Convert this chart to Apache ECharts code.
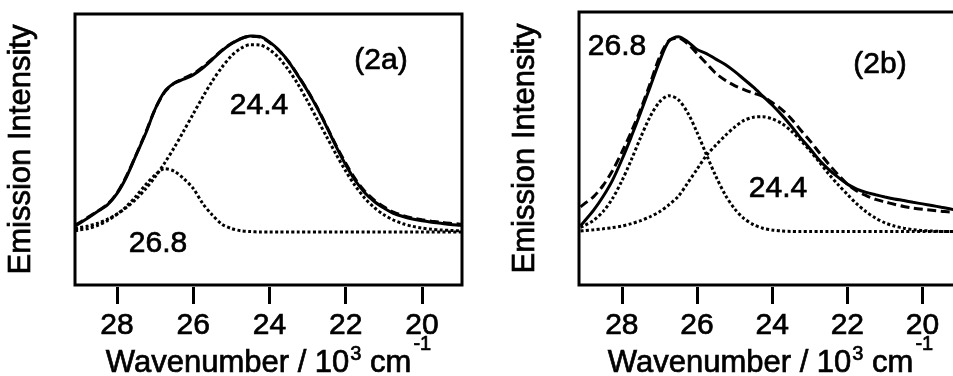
<!DOCTYPE html>
<html><head><meta charset="utf-8">
<script src="https://cdn.jsdelivr.net/npm/echarts@6/dist/echarts.min.js"></script>
<style>html,body{margin:0;padding:0;background:#fff}#c{width:953px;height:376px}</style>
</head><body><div id="c"></div>
<script>
// Wavenumber grid (10^3 cm^-1)
const xs = [29.1, 29.0, 28.75, 28.5, 28.25, 28.0, 27.75, 27.5, 27.25, 27.0, 26.75, 26.5, 26.25, 26.0, 25.75, 25.5, 25.25, 25.0, 24.75, 24.5, 24.25, 24.0, 23.75, 23.5, 23.25, 23.0, 22.75, 22.5, 22.25, 22.0, 21.75, 21.5, 21.25, 21.0, 20.75, 20.5, 20.25, 20.0, 19.75, 19.5, 19.25, 19.0, 18.95];
const tickValues = [28, 26, 24, 22, 20];

// Panel (2a)
const a_measured = [0.03, 0.042, 0.073, 0.105, 0.138, 0.195, 0.28, 0.39, 0.50, 0.625, 0.715, 0.757, 0.778, 0.80, 0.835, 0.878, 0.922, 0.958, 0.984, 0.998, 0.995, 0.968, 0.925, 0.868, 0.795, 0.718, 0.632, 0.535, 0.435, 0.342, 0.262, 0.200, 0.155, 0.122, 0.095, 0.079, 0.066, 0.057, 0.050, 0.044, 0.038, 0.034, 0.033];
const a_fit = [0.038, 0.046, 0.076, 0.107, 0.141, 0.198, 0.285, 0.392, 0.505, 0.625, 0.712, 0.758, 0.782, 0.805, 0.84, 0.882, 0.925, 0.96, 0.985, 0.997, 0.992, 0.965, 0.924, 0.868, 0.797, 0.72, 0.635, 0.538, 0.44, 0.35, 0.27, 0.208, 0.162, 0.128, 0.101, 0.084, 0.071, 0.062, 0.055, 0.049, 0.044, 0.040, 0.039];
const a_band244 = [0.017, 0.021, 0.031, 0.045, 0.065, 0.091, 0.125, 0.167, 0.219, 0.280, 0.351, 0.429, 0.514, 0.601, 0.687, 0.768, 0.838, 0.896, 0.935, 0.954, 0.952, 0.929, 0.886, 0.825, 0.752, 0.665, 0.575, 0.485, 0.395, 0.31, 0.235, 0.172, 0.124, 0.088, 0.061, 0.042, 0.029, 0.020, 0.014, 0.010, 0.008, 0.006, 0.006];
const a_band268 = [0.006, 0.010, 0.018, 0.034, 0.058, 0.09, 0.13, 0.182, 0.24, 0.29, 0.322, 0.31, 0.272, 0.222, 0.145, 0.087, 0.04, 0.018, 0.006, 0.002, 0, 0, 0, 0, 0, 0, 0, 0, 0, 0, 0, 0, 0, 0, 0, 0, 0, 0, 0, 0, 0, 0, 0];

// Panel (2b)
const b_measured = [0.03, 0.051, 0.108, 0.177, 0.259, 0.363, 0.479, 0.602, 0.73, 0.859, 0.963, 0.985, 0.96, 0.92, 0.90, 0.872, 0.845, 0.81, 0.77, 0.73, 0.685, 0.64, 0.59, 0.535, 0.475, 0.42, 0.362, 0.315, 0.275, 0.24, 0.215, 0.198, 0.186, 0.175, 0.165, 0.157, 0.148, 0.14, 0.132, 0.123, 0.114, 0.107, 0.106];
const b_fit = [0.125, 0.14, 0.177, 0.233, 0.307, 0.401, 0.504, 0.618, 0.747, 0.88, 0.965, 0.978, 0.95, 0.90, 0.85, 0.80, 0.765, 0.738, 0.718, 0.70, 0.683, 0.652, 0.618, 0.572, 0.515, 0.46, 0.40, 0.342, 0.288, 0.24, 0.205, 0.182, 0.163, 0.15, 0.138, 0.127, 0.119, 0.113, 0.108, 0.103, 0.098, 0.095, 0.094];
const b_band244 = [0.003, 0.005, 0.009, 0.014, 0.02, 0.028, 0.04, 0.055, 0.075, 0.10, 0.135, 0.178, 0.245, 0.315, 0.385, 0.437, 0.485, 0.528, 0.562, 0.578, 0.581, 0.57, 0.547, 0.51, 0.463, 0.41, 0.352, 0.292, 0.238, 0.188, 0.14, 0.10, 0.068, 0.044, 0.028, 0.017, 0.01, 0.005, 0.003, 0.001, 0, 0, 0];
const b_band268 = [0.022, 0.030, 0.057, 0.101, 0.167, 0.256, 0.362, 0.476, 0.58, 0.655, 0.687, 0.667, 0.601, 0.502, 0.389, 0.28, 0.186, 0.115, 0.066, 0.035, 0.017, 0.008, 0.003, 0.001, 0, 0, 0, 0, 0, 0, 0, 0, 0, 0, 0, 0, 0, 0, 0, 0, 0, 0, 0];

const panelLabels = ['(2a)', '(2b)'];
const bandLabels = ['24.4', '26.8'];
const yTitle = 'Emission Intensity';

const FONT = '"Liberation Sans", Arial, Helvetica, sans-serif';
const HEAVY = { textBorderColor: '#000', textBorderWidth: 0.7 };
function pairs(arr) { return xs.map((x, i) => [x, arr[i]]); }

const nameRich = {
  m: Object.assign({ fontSize: 31, lineHeight: 30, verticalAlign: 'bottom', color: '#000', fontFamily: FONT }, HEAVY),
  s: Object.assign({ fontSize: 20, lineHeight: 20, verticalAlign: 'bottom', color: '#000', fontFamily: FONT, padding: [0, 0, 15, 1] }, HEAVY),
  t: Object.assign({ fontSize: 20, lineHeight: 20, verticalAlign: 'bottom', color: '#000', fontFamily: FONT, padding: [0, 0, 25, 2] }, HEAVY)
};

function xAxisFor(gi, maxV) {
  return {
    gridIndex: gi, type: 'value', inverse: true, min: 18.95, max: maxV, offset: 2,
    axisLine: { show: false, onZero: false }, splitLine: { show: false },
    axisTick: { show: true, inside: false, length: 17, customValues: tickValues, lineStyle: { color: '#000', width: 3 } },
    axisLabel: Object.assign({ customValues: tickValues, fontSize: 30, color: '#000', fontFamily: FONT, margin: 24 }, HEAVY),
    name: '{m|Wavenumber / 10}{s|3}{m| cm}{t|-1}', nameLocation: 'middle', nameGap: 62, nameMoveOverlap: false,
    nameTextStyle: { rich: nameRich }
  };
}
function yAxisFor(gi) {
  return {
    gridIndex: gi, type: 'value', min: -0.27, max: 1.11,
    axisLine: { show: false }, axisTick: { show: false }, axisLabel: { show: false }, splitLine: { show: false },
    name: yTitle, nameLocation: 'middle', nameRotate: 90, nameGap: 38, nameMoveOverlap: false,
    nameTextStyle: Object.assign({ fontSize: 31, color: '#000', fontFamily: FONT }, HEAVY)
  };
}
const LW = 3;
function line(gi, arr, kind) {
  const type = kind === 'solid' ? 'solid' : (kind === 'dashed' ? [9, 4.5] : [3, 2.4]);
  return {
    type: 'line', xAxisIndex: gi, yAxisIndex: gi, data: pairs(arr), showSymbol: false, symbol: 'none',
    smooth: 0.3, silent: true, z: kind === 'solid' ? 4 : (kind === 'dashed' ? 3 : 2),
    lineStyle: { color: '#000', width: LW, type: type }
  };
}
function txt(text, x, y, size) {
  return { type: 'text', x: x, y: y, silent: true, z: 10,
    style: { text: text, fill: '#000', stroke: '#000', lineWidth: 0.7, fontSize: size, fontFamily: FONT, align: 'center', verticalAlign: 'middle' } };
}

const chart = echarts.init(document.getElementById('c'));
chart.setOption({
  animation: false,
  backgroundColor: '#fff',
  grid: [
    { left: 75, top: 14, width: 387, height: 271, outerBoundsMode: 'none', containLabel: false, show: true, borderColor: '#000', borderWidth: 3, backgroundColor: 'transparent' },
    { left: 579, top: 12, width: 383, height: 273, outerBoundsMode: 'none', containLabel: false, show: true, borderColor: '#000', borderWidth: 3, backgroundColor: 'transparent' }
  ],
  xAxis: [xAxisFor(0, 29.1), xAxisFor(1, 29.14)],
  yAxis: [yAxisFor(0), yAxisFor(1)],
  series: [
    line(0, a_band268, 'dotted'), line(0, a_band244, 'dotted'), line(0, a_fit, 'dashed'), line(0, a_measured, 'solid'),
    line(1, b_band268, 'dotted'), line(1, b_band244, 'dotted'), line(1, b_fit, 'dashed'), line(1, b_measured, 'solid')
  ],
  graphic: [
    txt(panelLabels[0], 381, 61, 30),
    txt(bandLabels[0], 259, 106, 30),
    txt(bandLabels[1], 158, 244, 30),
    txt(panelLabels[1], 880, 65, 30),
    txt(bandLabels[1], 617, 47, 30),
    txt(bandLabels[0], 778, 189, 30)
  ]
});
</script>
</body></html>
